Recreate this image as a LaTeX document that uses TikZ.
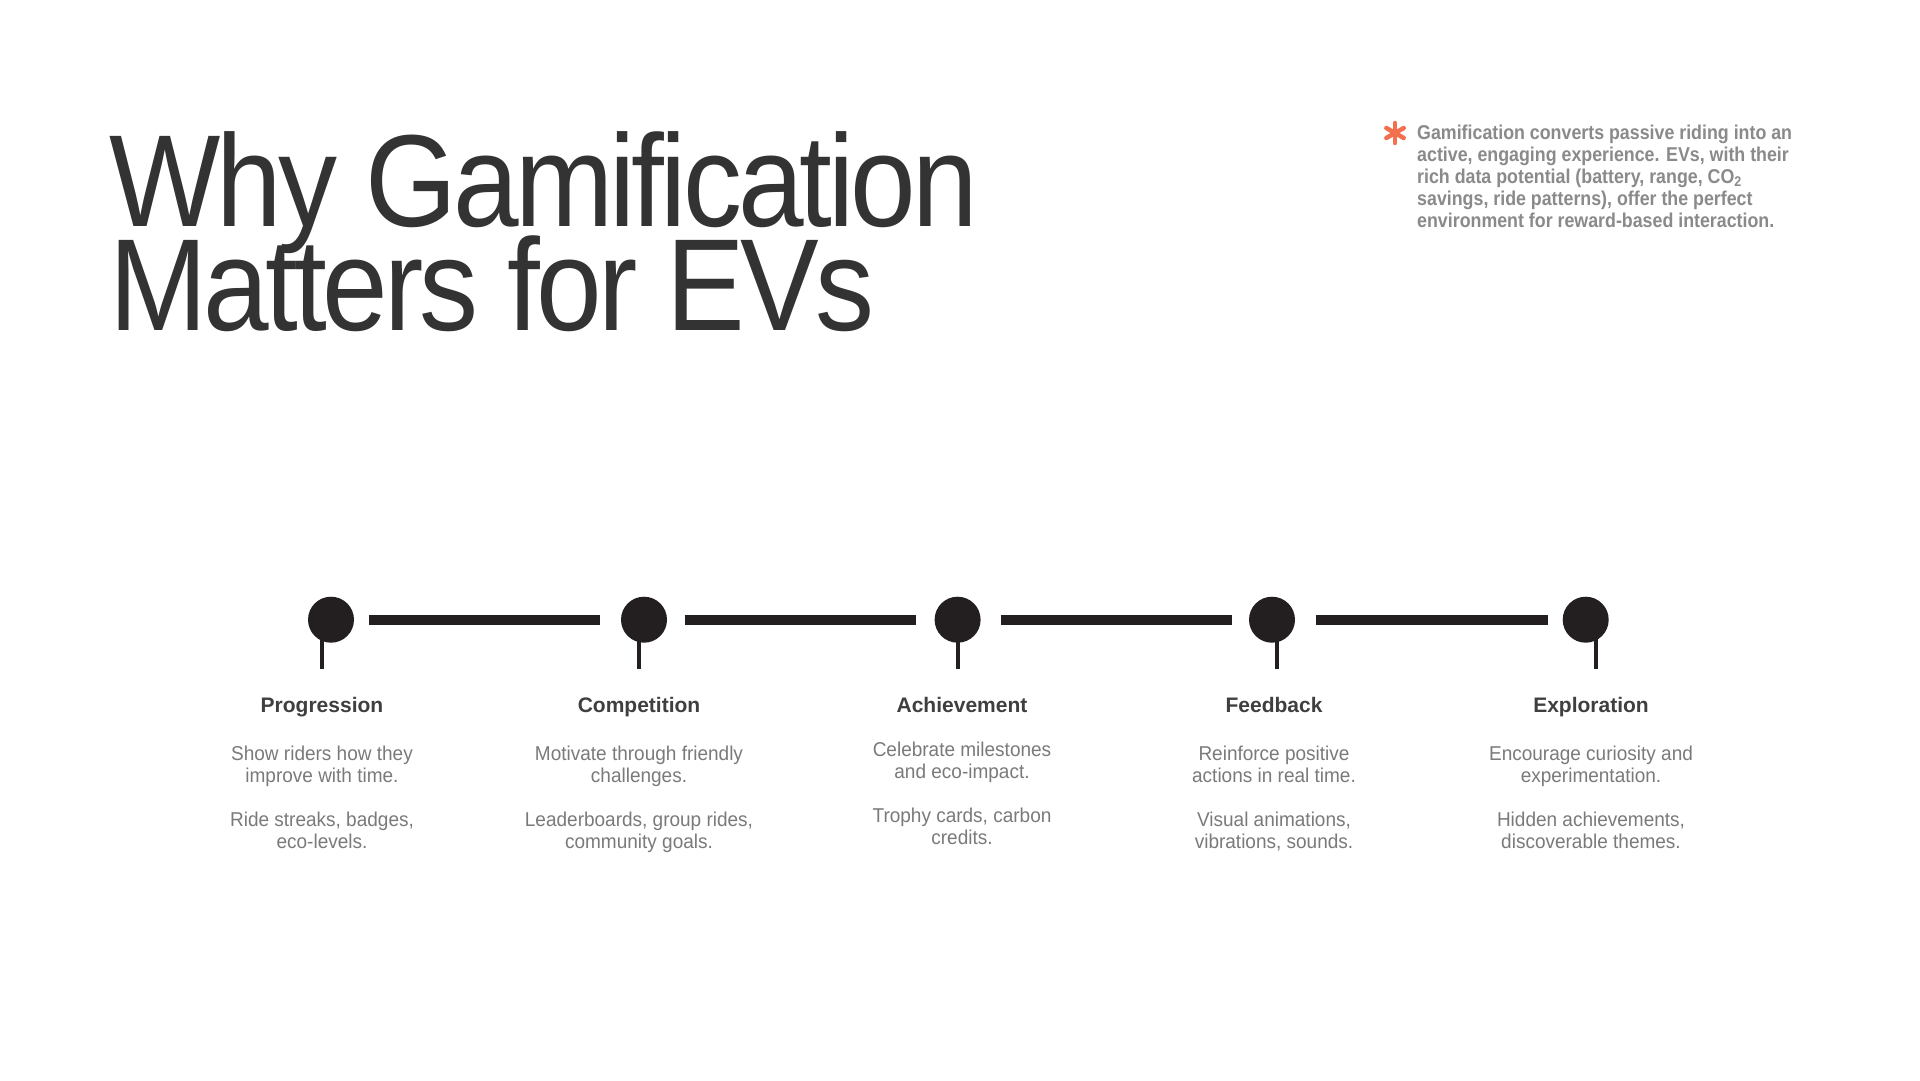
\documentclass[tikz,border=0pt]{standalone}
\usepackage{fontspec}
\setmainfont{Liberation Sans}
\newfontfamily\titlefont[FakeStretch=0.9,LetterSpace=-3]{Liberation Sans}
\newfontfamily\bodyfont[FakeStretch=0.95]{Liberation Sans}
\newfontfamily\parafont[FakeStretch=0.89]{Liberation Sans}
\definecolor{titlec}{HTML}{333333}
\definecolor{dotc}{HTML}{231F20}
\definecolor{headc}{HTML}{3F3F3F}
\definecolor{bodyc}{HTML}{7A7A7A}
\definecolor{parac}{HTML}{8A8A8A}
\definecolor{astc}{HTML}{F2704E}
\begin{document}
\begin{tikzpicture}[x=1pt,y=-1pt,
  dot/.style={circle, fill=dotc, minimum size=46pt, inner sep=0},
  bar/.style={draw=dotc, line width=10pt},
  stemline/.style={draw=dotc, line width=4pt},
  head/.style={font=\bfseries\fontsize{21}{25}\selectfont, text=headc, inner sep=0, anchor=base},
  body/.style={font=\bodyfont\fontsize{20}{22}\selectfont, text=bodyc, inner sep=0, align=center, anchor=base},
  titleline/.style={font=\titlefont\fontsize{131}{131}\selectfont, text=titlec, inner sep=0, anchor=base west},
  para/.style={font=\parafont\bfseries\fontsize{20}{22}\selectfont, text=parac, inner sep=0, align=left, anchor=base west},
  astline/.style={draw=astc, line width=4.5pt, line cap=round},
]
\fill[white] (0,0) rectangle (1920,1080);
\useasboundingbox (0,0) rectangle (1920,1080);

% title
\node[titleline] (t1) at (109,226.5) {Why Gamification};
\node[titleline] (t2) at (109,330.6) {Matters for EVs};

% note (base anchor = baseline of last line)
\coordinate (ast) at (1395,133);
\draw[astline] ([shift={(0,-10)}]ast) -- ([shift={(0,10)}]ast);
\draw[astline] ([shift={(-8.7,-5)}]ast) -- ([shift={(8.7,5)}]ast);
\draw[astline] ([shift={(-8.7,5)}]ast) -- ([shift={(8.7,-5)}]ast);
\node[para] (note) at (1417,227) {Gamification converts passive riding into an\\active, engaging experience. EVs, with their\\rich data potential (battery, range, CO\textsubscript{2}\\savings, ride patterns), offer the perfect\\environment for reward-based interaction.};

% timeline
\node[dot] (c1) at (331,619.7) {};
\node[dot] (c2) at (644,619.7) {};
\node[dot] (c3) at (957.6,619.7) {};
\node[dot] (c4) at (1272,619.7) {};
\node[dot] (c5) at (1585.7,619.7) {};

\draw[bar, shorten <=14.6pt, shorten >=21pt] (c1) -- (c2);
\draw[bar, shorten <=17.5pt, shorten >=18.6pt] (c2) -- (c3);
\draw[bar, shorten <=19.8pt, shorten >=17pt] (c3) -- (c4);
\draw[bar, shorten <=21pt, shorten >=14.7pt] (c4) -- (c5);

\coordinate (s1) at (322,669);
\coordinate (s2) at (639,669);
\coordinate (s3) at (957.6,669);
\coordinate (s4) at (1277,669);
\coordinate (s5) at (1595.5,669);
\draw[stemline] (c1.center -| s1) -- (s1);
\draw[stemline] (c2.center -| s2) -- (s2);
\draw[stemline] (c3.center -| s3) -- (s3);
\draw[stemline] (c4.center -| s4) -- (s4);
\draw[stemline] (c5.center -| s5) -- (s5);

% headings
\node[head] (h1) at (322,712) {Progression};
\node[head] (h2) at (639,712) {Competition};
\node[head] (h3) at (962,712) {Achievement};
\node[head] (h4) at (1274,712) {Feedback};
\node[head] (h5) at (1591,712) {Exploration};

% bodies (base anchor = baseline of last line)
\node[body] (b1) at (322,848) {Show riders how they\\improve with time.\\[22pt]Ride streaks, badges,\\eco-levels.};
\node[body] (b2) at (639,848) {Motivate through friendly\\challenges.\\[22pt]Leaderboards, group rides,\\community goals.};
\node[body] (b3) at (962,844.5) {Celebrate milestones\\and eco-impact.\\[22pt]Trophy cards, carbon\\credits.};
\node[body] (b4) at (1274,848) {Reinforce positive\\actions in real time.\\[22pt]Visual animations,\\vibrations, sounds.};
\node[body] (b5) at (1591,848) {Encourage curiosity and\\experimentation.\\[22pt]Hidden achievements,\\discoverable themes.};
\end{tikzpicture}
\end{document}
